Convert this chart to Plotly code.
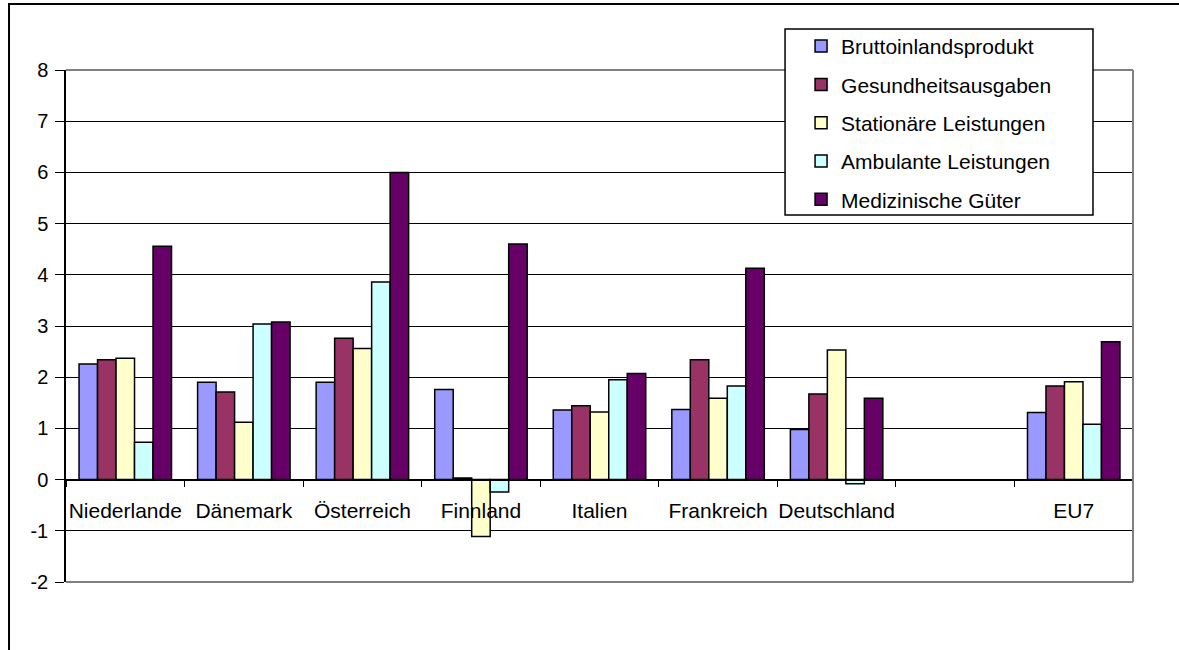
import plotly.graph_objects as go

# Länder (die leere Kategorie lässt eine Lücke vor dem EU7-Mittelwert)
categories = ["Niederlande", "Dänemark", "Österreich", "Finnland", "Italien",
              "Frankreich", "Deutschland", " ", "EU7"]

bip = [2.26, 1.90, 1.90, 1.76, 1.36, 1.37, 0.98, None, 1.31]
gesundheitsausgaben = [2.34, 1.71, 2.76, 0.03, 1.44, 2.34, 1.67, None, 1.83]
stationaer = [2.37, 1.12, 2.56, -1.11, 1.32, 1.59, 2.53, None, 1.91]
ambulant = [0.73, 3.04, 3.86, -0.24, 1.95, 1.83, -0.08, None, 1.08]
med_gueter = [4.56, 3.08, 6.00, 4.60, 2.07, 4.13, 1.59, None, 2.69]

series = [
    ("Bruttoinlandsprodukt", bip, "#9999FF"),
    ("Gesundheitsausgaben", gesundheitsausgaben, "#993366"),
    ("Stationäre Leistungen", stationaer, "#FFFFCC"),
    ("Ambulante Leistungen", ambulant, "#CCFFFF"),
    ("Medizinische Güter", med_gueter, "#660066"),
]

y_ticks = list(range(-2, 9))

FONT = "Liberation Sans, Arial, sans-serif"

fig = go.Figure()
for i, (name, vals, color) in enumerate(series):
    fig.add_trace(go.Bar(
        x=categories, y=vals, name=name, legendgroup=f"g{i}",
        marker=dict(color=color, line=dict(color="black", width=1.5)),
    ))

fig.update_layout(
    width=1179, height=650,
    margin=dict(l=66, r=46, t=70, b=68),
    paper_bgcolor="white", plot_bgcolor="white",
    barmode="group", bargap=0.22, bargroupgap=0,
    font=dict(family=FONT, size=20, color="black"),
    showlegend=True,
    legend=dict(
        x=0.6889, y=1.086, xanchor="left", yanchor="top",
        borderwidth=0, bgcolor="rgba(0,0,0,0)",
        font=dict(family=FONT, size=21, color="black"),
        tracegroupgap=8, itemwidth=30,
    ),
    xaxis=dict(
        type="category", categoryorder="array", categoryarray=categories,
        anchor="free", position=0.2, tickangle=0,
        showline=True, linecolor="black", linewidth=1.5,
        ticks="outside", tickson="boundaries", ticklen=7, tickcolor="black",
        showgrid=False, tickfont=dict(family=FONT, size=21, color="black"),
        ticklabelstandoff=12,
    ),
    yaxis=dict(
        range=[-2, 8], tickvals=y_ticks, ticktext=[str(v) for v in y_ticks],
        showline=True, linecolor="black", linewidth=1.5,
        ticks="outside", ticklen=9, tickcolor="black",
        showgrid=True, gridcolor="black", gridwidth=1,
        zeroline=False, tickfont=dict(family=FONT, size=20, color="black"),
        ticklabelstandoff=3,
    ),
    shapes=[
        # Rahmen der Zeichnungsfläche (oben, rechts, unten)
        dict(type="line", xref="paper", yref="paper", x0=0, x1=1, y0=1, y1=1,
             line=dict(color="#808080", width=2), layer="above"),
        dict(type="line", xref="paper", yref="paper", x0=1, x1=1, y0=0, y1=1,
             line=dict(color="#808080", width=2), layer="above"),
        dict(type="line", xref="paper", yref="paper", x0=0, x1=1, y0=0, y1=0,
             line=dict(color="#808080", width=2), layer="above"),
        # Legendenkasten
        dict(type="rect", xref="paper", yref="paper",
             x0=0.6739, x1=0.9625, y0=0.7168, y1=1.0801,
             fillcolor="white", line=dict(color="black", width=1.5), layer="above"),
        # Rahmen des Diagrammbereichs
        dict(type="rect", xref="paper", yref="paper",
             x0=-0.0534, x1=1.2, y0=-0.3, y1=1.129,
             line=dict(color="black", width=2), layer="above"),
    ],
)

fig.write_html("out.html")
